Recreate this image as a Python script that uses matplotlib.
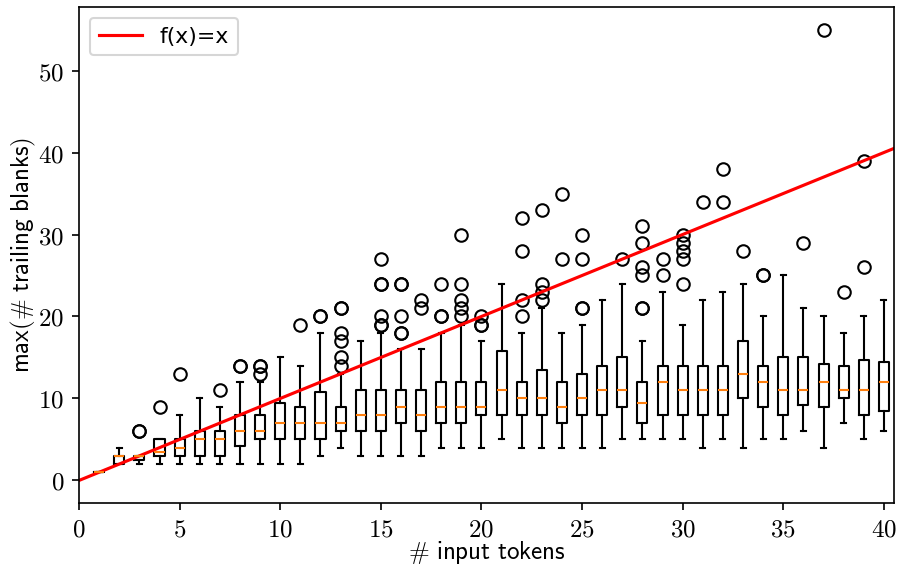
import matplotlib
matplotlib.use("Agg")
import matplotlib.pyplot as plt
import numpy as np

plt.rcParams['mathtext.fontset'] = 'cm'
plt.rcParams['font.size'] = 12

# box statistics per number of input tokens
tokens = list(range(1, 41))
whislo = [1, 2, 2, 2, 2, 2, 2, 2, 2, 2,
          2, 3, 4, 3, 3, 3, 3, 4, 4, 4,
          5, 4, 4, 4, 4, 4, 5, 5, 5, 5,
          4, 5, 4, 5, 5, 6, 4, 7, 5, 6]
q1 = [1, 2, 2.5, 3, 3, 3, 3, 4.25, 5, 5,
      5, 5, 6, 6, 6, 7, 6, 7, 7, 8,
      8, 8, 8, 7, 8, 8, 9, 7, 8, 8,
      8, 8, 10, 9, 8, 9.25, 9, 10, 8, 8.5]
med = [1, 3, 3, 3.5, 4, 5, 5, 6, 6, 7,
       7, 7, 7, 8, 8, 9, 8, 9, 9, 9,
       11, 10, 10, 9, 10, 11, 11, 9.5, 12, 11,
       11, 11, 13, 12, 11, 11, 12, 11, 11, 12]
q3 = [1, 3, 3, 5, 5, 6, 6, 8, 8, 9.5,
      9, 10.75, 9, 11, 11, 11, 11, 12, 12, 12,
      15.75, 12, 13.5, 12, 13, 14, 15, 12, 14, 14,
      14, 14, 17, 14, 15, 15, 14.25, 14, 14.75, 14.5]
whishi = [1, 4, 3, 5, 8, 10, 9, 12, 12, 15,
          14, 18, 13, 17, 18, 16, 16, 18, 19, 17,
          24, 18, 21, 18, 19, 22, 24, 17, 23, 19,
          22, 23, 24, 20, 25, 21, 20, 18, 20, 22]
fliers = [[], [], [6, 6], [9], [13], [], [11], [14, 14], [13, 14, 14], [],
          [19], [20, 20], [14, 15, 17, 18, 21, 21], [], [19, 19, 20, 24, 24, 27],
          [18, 18, 20, 24, 24], [21, 22], [20, 20, 24], [20, 21, 22, 24, 30], [19, 19, 20],
          [], [20, 22, 28, 32], [22, 23, 24, 33], [27, 35], [21, 21, 27, 30],
          [], [27], [21, 21, 25, 26, 29, 31], [25, 27], [24, 27, 28, 29, 30],
          [34], [34, 38], [28], [25, 25], [], [29], [55], [23], [26, 39], []]

stats = []
for i in range(len(tokens)):
    stats.append({'whislo': whislo[i], 'q1': q1[i], 'med': med[i],
                  'q3': q3[i], 'whishi': whishi[i], 'fliers': fliers[i]})

fig = plt.figure(figsize=(898 / 150, 569 / 150), dpi=150)
ax = fig.add_axes([0.088, 0.116, 0.9075, 0.8717])

ax.bxp(stats, positions=tokens, widths=0.5,
       medianprops={'color': 'C1'},
       flierprops={'marker': 'o', 'markerfacecolor': 'none', 'markeredgecolor': 'k'})

xs = np.array([0, 41])
ax.plot(xs, xs, color='red', lw=1.5, label='f(x)=x')

ax.set_xlim(0, 40.5)
ax.set_ylim(-2.75, 57.75)
xt = list(range(0, 41, 5))
yt = list(range(0, 51, 10))
ax.set_xticks(xt, [f'${v}$' for v in xt])
ax.set_yticks(yt, [f'${v}$' for v in yt])
ax.set_xlabel(r'$\mathsf{\#\ input\ tokens}$', labelpad=-1)
ax.set_ylabel(r'$\mathsf{max(\#\ trailing\ blanks)}$', labelpad=0)
ax.legend(loc='upper left', fontsize=10.5)

fig.savefig('out.png', dpi=150)
